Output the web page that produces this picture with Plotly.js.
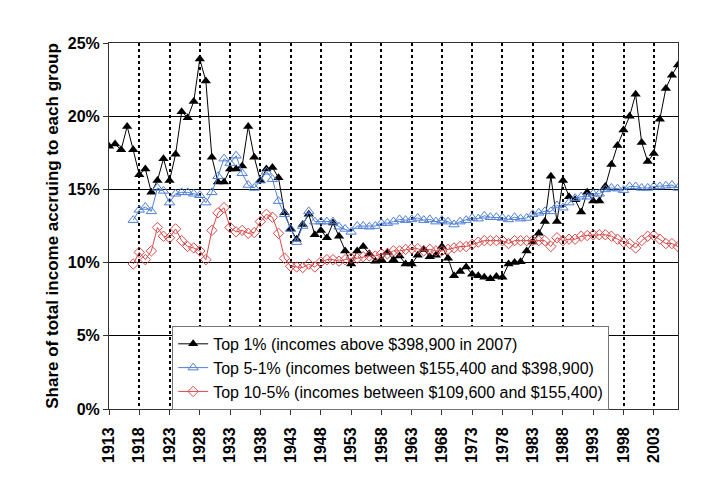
<!DOCTYPE html>
<html>
<head>
<meta charset="utf-8">
<script src="https://cdn.plot.ly/plotly-3.0.1.min.js"></script>
<style>html,body{margin:0;padding:0;background:#fff;}#chart{width:720px;height:494px;}</style>
</head>
<body>
<div id="chart"></div>
<script>
const firstYear = 1913;
const top1 = [17.95,18.1,17.7,19.3,17.7,16.0,16.4,14.8,15.6,17.1,
15.6,17.4,20.3,19.9,21.0,23.9,22.4,17.2,15.5,15.5,
16.4,16.4,16.6,19.3,17.2,15.6,16.4,16.5,15.8,13.4,
12.3,11.6,12.6,13.3,11.9,12.2,11.7,12.7,11.8,10.8,
9.9,10.8,11.1,10.6,10.1,10.2,10.7,10.2,10.45,9.9,
9.9,10.5,10.9,10.4,10.5,11.1,10.3,9.1,9.4,9.7,
9.2,9.1,9.0,8.9,9.05,9.0,9.9,10.0,10.05,10.8,
11.4,12.0,12.8,15.9,12.8,15.6,14.5,14.3,13.45,14.8,
14.2,14.2,15.2,16.7,18.0,19.05,20.0,21.5,18.2,16.9,
17.45,19.8,21.9,22.8,23.5];
const secondStart = 1917;
const top5to1 = [12.9,13.6,13.8,13.5,15.1,14.9,14.1,14.7,14.8,14.8,
14.7,14.6,14.1,14.8,15.9,17.1,16.8,17.3,16.1,15.3,
15.1,15.6,16.2,15.7,14.2,13.3,12.3,11.4,12.5,13.5,
12.8,12.8,12.8,12.8,12.45,12.3,12.1,12.5,12.5,12.45,
12.5,12.7,12.7,12.8,12.95,12.9,12.95,13.05,12.9,12.95,
12.8,12.9,12.8,12.6,12.8,12.9,13.05,13.0,13.2,13.1,
13.1,13.05,12.95,13.1,13.0,13.05,13.3,13.4,13.5,13.5,
13.9,13.75,14.1,14.4,14.5,14.5,14.7,14.7,15.0,15.1,
15.05,14.95,15.2,15.2,15.1,15.1,15.2,15.2,15.25,15.3,15.1];
const top10to5 = [9.9,10.7,10.2,10.8,12.4,11.8,11.7,12.3,11.5,11.1,
11.0,10.8,10.2,12.2,13.4,13.75,12.4,12.1,12.2,12.0,
12.05,12.8,13.3,13.1,12.0,10.3,9.75,9.7,9.66,9.9,
9.7,10.05,10.2,10.2,10.1,10.2,10.3,10.3,10.4,10.45,
10.45,10.6,10.6,10.8,10.8,10.9,10.95,10.95,10.8,10.9,
10.8,10.8,10.9,11.0,11.1,11.1,11.25,11.4,11.5,11.5,
11.5,11.5,11.3,11.5,11.5,11.5,11.5,11.5,11.5,11.1,
11.7,11.5,11.6,11.6,11.8,11.85,11.9,11.9,11.9,11.8,
11.6,11.4,11.3,11.0,11.5,11.8,11.85,11.6,11.3,11.3,11.1];
const tickYears = [1913,1918,1923,1928,1933,1938,1943,1948,1953,1958,1963,1968,1973,1978,1983,1988,1993,1998,2003];
const tickLabels = ["1913","1918","1923","1928","1933","1938","1943","1948","1953","1958","1963","1968","1973","1978","1983","1988","1993","1998","2003"];
const yTicks = [0,5,10,15,20,25];
const yTickLabels = ["0%","5%","10%","15%","20%","25%"];
const seriesNames = [
  "Top 1% (incomes above $398,900 in 2007)",
  "Top 5-1% (incomes between $155,400 and $398,900)",
  "Top 10-5% (incomes between $109,600 and $155,400)"
];

const yearsA = top1.map((_, i) => firstYear + i);
const yearsB = top5to1.map((_, i) => secondStart + i);
const yearsC = top10to5.map((_, i) => secondStart + i);

const font = "Arial, 'Liberation Sans', sans-serif";

const traces = [
  {x: yearsA, y: top1, name: seriesNames[0], type: 'scatter', mode: 'lines+markers',
   line: {color: '#000', width: 1},
   marker: {symbol: 'triangle-up', size: 9, color: '#000', line: {color: '#000', width: 0}}},
  {x: yearsB, y: top5to1, name: seriesNames[1], type: 'scatter', mode: 'lines+markers',
   line: {color: '#4f7fd6', width: 1},
   marker: {symbol: 'triangle-up-open', size: 9, color: '#4f7fd6', line: {width: 1}}},
  {x: yearsC, y: top10to5, name: seriesNames[2], type: 'scatter', mode: 'lines+markers',
   line: {color: '#d94a4a', width: 1},
   marker: {symbol: 'diamond-open', size: 8, color: '#d94a4a', line: {width: 1}}}
];

const layout = {
  width: 720, height: 494,
  margin: {l: 109, r: 42, t: 43, b: 85, pad: 0},
  paper_bgcolor: '#fff', plot_bgcolor: '#fff',
  font: {family: font, color: '#000'},
  showlegend: true,
  legend: {
    x: 0.111, y: 0.227, xanchor: 'left', yanchor: 'top',
    bgcolor: '#fff', bordercolor: '#777', borderwidth: 1,
    font: {family: font, size: 16, color: '#000'},
    tracegroupgap: 0, itemwidth: 30
  },
  xaxis: {
    range: [1913, 2007], tickmode: 'array', tickvals: tickYears, ticktext: tickLabels,
    tickangle: -90, tickfont: {family: font, size: 16, weight: 'bold', color: '#000'},
    ticklabelstandoff: 6,
    ticks: 'outside', ticklen: 5, tickcolor: '#333', tickwidth: 1,
    showgrid: true, gridcolor: '#000', gridwidth: 2, griddash: 'dot',
    showline: true, linecolor: '#333', linewidth: 1, mirror: true,
    zeroline: false
  },
  yaxis: {
    range: [0, 25], tickmode: 'array', tickvals: yTicks, ticktext: yTickLabels,
    tickfont: {family: font, size: 16, weight: 'bold', color: '#000'},
    ticks: 'outside', ticklen: 5, tickcolor: '#333', tickwidth: 1,
    showgrid: true, gridcolor: '#000', gridwidth: 1,
    showline: true, linecolor: '#333', linewidth: 1, mirror: true,
    zeroline: false,
    title: {text: 'Share of total income accruing to each group', standoff: 4,
            font: {family: font, size: 17, weight: 'bold', color: '#000'}}
  }
};

Plotly.newPlot('chart', traces, layout, {displayModeBar: false, staticPlot: true});
</script>
</body>
</html>
